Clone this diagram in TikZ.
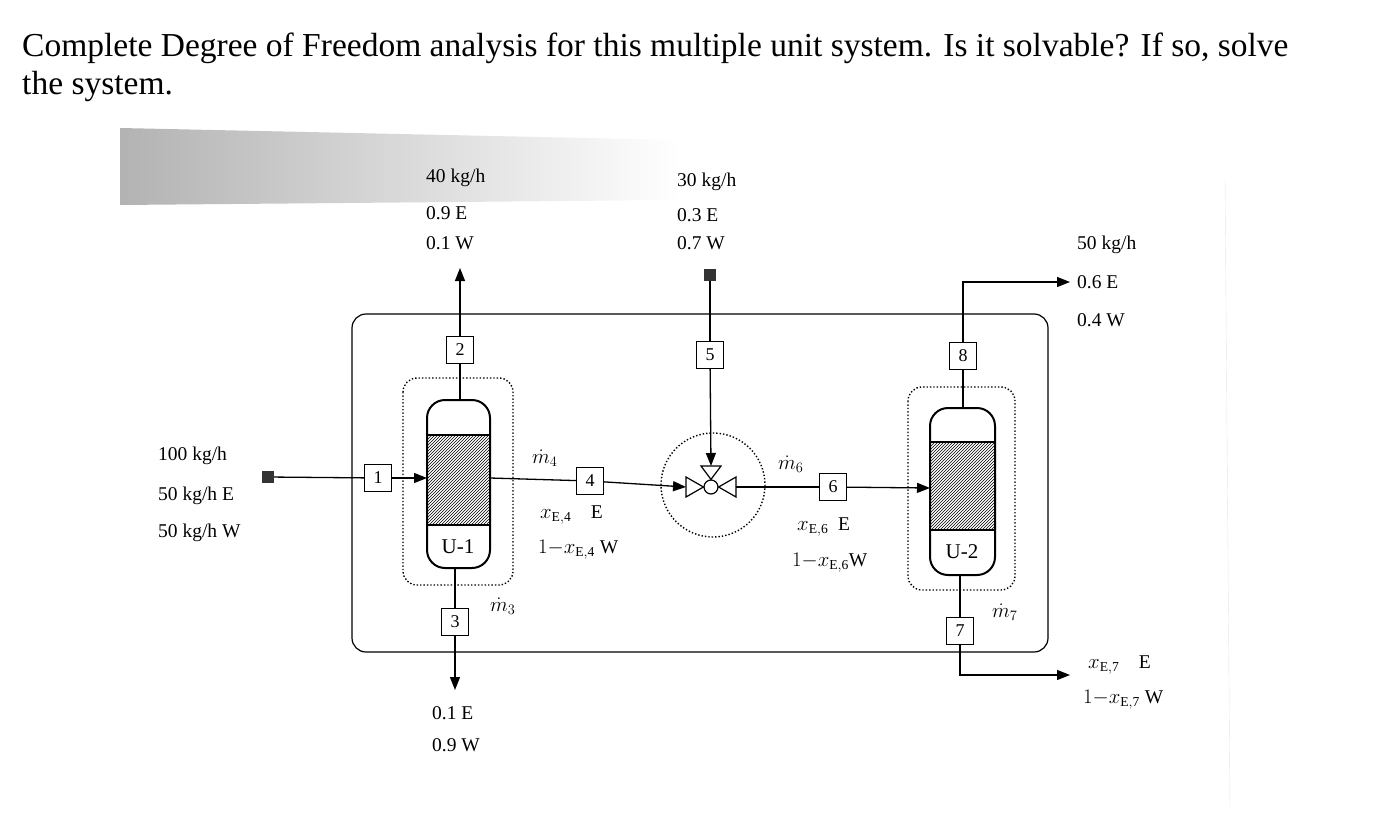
\documentclass[tikz,border=0pt]{standalone}
\usepackage{fontspec}
\setmainfont{Liberation Serif}
\usetikzlibrary{patterns,arrows.meta}
\begin{document}
\begin{tikzpicture}[x=1pt,y=-1pt,
  num/.style={draw,line width=1.2pt,minimum size=27pt,inner sep=0pt,font=\fontsize{18}{18}\selectfont,fill=white},
  lbl/.style={anchor=west,font=\fontsize{19.5}{19.5}\selectfont,inner sep=0pt},
  flow/.style={line width=1.3pt},
  arr/.style={line width=1.3pt,-{Triangle[length=13pt,width=10pt]}},
  dotbox/.style={dotted,line width=1.4pt,rounded corners=14pt},
  col/.style={draw,line width=2pt}]
\useasboundingbox (0,0) rectangle (1394,816);
% title
\node[anchor=west,font=\fontsize{33.5}{33.5}\selectfont,inner sep=0pt] (t1) at (22,48) {Complete Degree of Freedom analysis for this multiple unit system. Is it solvable? If so, solve};
\node[anchor=west,font=\fontsize{33.5}{33.5}\selectfont,inner sep=0pt] (t2) at (22,86) {the system.};
\shade[left color=black!30,right color=white] (120,128) -- (680,140) -- (680,200) -- (120,205) -- cycle;
\draw[black!10] (1225,180) -- (1230,810);
% outer boundary
\draw[line width=1.2pt,rounded corners=14pt] (352,314) rectangle (1048,652);
% U-1
\draw[dotbox] (403,378) rectangle (513,585);
\draw[col,rounded corners=18pt] (427,400) rectangle (490,568);
\fill[pattern=north east lines] (427,435) rectangle (490,525);
\draw[line width=2pt] (427,435) -- (490,435) (427,525) -- (490,525);
\node[font=\fontsize{21}{21}\selectfont] (u1) at (458,547) {U-1};
\coordinate (u1l) at (427,478); \coordinate (u1r) at (490,478);
\coordinate (u1t) at (460,400); \coordinate (u1b) at (455,568);
% U-2
\draw[dotbox] (908,387) rectangle (1015,590);
\draw[col,rounded corners=18pt] (930,408) rectangle (995,575);
\fill[pattern=north east lines] (930,442) rectangle (995,530);
\draw[line width=2pt] (930,442) -- (995,442) (930,530) -- (995,530);
\node[font=\fontsize{21}{21}\selectfont] (u2) at (962,552) {U-2};
\coordinate (u2l) at (930,488); \coordinate (u2t) at (963,408); \coordinate (u2b) at (960,575);
% mixer
\draw[dotted,line width=1.4pt] (713,485) circle (52);
\node[circle,draw,line width=1.2pt,minimum size=14pt,inner sep=0pt] (mix) at (711,487) {};
\draw[line width=1.2pt] (mix.west) -- (686,477) -- (686,497) -- cycle;
\draw[line width=1.2pt] (mix.east) -- (736,477) -- (736,497) -- cycle;
\draw[line width=1.2pt] (mix.north) -- (701,466) -- (721,466) -- cycle;
\coordinate (mixl) at (686,487); \coordinate (mixr) at (736,487); \coordinate (mixt) at (711,466);
% stream boxes
\node[num] (b1) at (378,478) {1};
\node[num] (b2) at (460,350) {2};
\node[num] (b3) at (455,622) {3};
\node[num] (b4) at (590,481) {4};
\node[num] (b5) at (710,355) {5};
\node[num] (b6) at (833,487) {6};
\node[num] (b7) at (960,631) {7};
\node[num] (b8) at (963,356) {8};
% sources
\node[fill=black!80,minimum size=12pt,inner sep=0pt] (s1) at (268,477) {};
\node[fill=black!80,minimum size=12pt,inner sep=0pt] (s5) at (710,275) {};
\coordinate (e2) at (460,268); \coordinate (e3) at (455,690);
\coordinate (c8) at (963,282); \coordinate (e8) at (1070,282);
\coordinate (c7) at (960,675); \coordinate (e7) at (1070,675);
% connectors
\draw[flow] (s1) -- (b1);
\draw[arr] (b1) -- (u1l);
\draw[flow] (u1t) -- (b2); \draw[arr] (b2) -- (e2);
\draw[flow] (u1b) -- (b3); \draw[arr] (b3) -- (e3);
\draw[flow] (u1r) -- (b4); \draw[arr] (b4) -- (mixl);
\draw[flow] (s5) -- (b5); \draw[arr] (b5) -- (mixt);
\draw[flow] (mixr) -- (b6); \draw[arr] (b6) -- (u2l);
\draw[flow] (u2t) -- (b8); \draw[arr] (b8) -- (c8) -- (e8);
\draw[flow] (u2b) -- (b7); \draw[arr] (b7) -- (c7) -- (e7);
% labels
\node[lbl] (l1a) at (158,456) {100 kg/h};
\node[lbl] (l1b) at (158,496) {50 kg/h E};
\node[lbl] (l1c) at (158,533) {50 kg/h W};
\node[lbl] (l2a) at (426,178) {40 kg/h};
\node[lbl] (l2b) at (426,213) {0.9 E};
\node[lbl] (l2c) at (426,243) {0.1 W};
\node[lbl] (l3a) at (432,713) {0.1 E};
\node[lbl] (l3b) at (432,745) {0.9 W};
\node[lbl] (l5a) at (677,182) {30 kg/h};
\node[lbl] (l5b) at (677,215) {0.3 E};
\node[lbl] (l5c) at (677,243) {0.7 W};
\node[lbl] (l8a) at (1077,245) {50 kg/h};
\node[lbl] (l8b) at (1077,282) {0.6 E};
\node[lbl] (l8c) at (1077,320) {0.4 W};
\node[lbl] (m4) at (532,458) {$\dot m_4$};
\node[lbl] (x4) at (540,515) {$x_{\mathrm{E,4}}$\quad E};
\node[lbl] (x4w) at (538,550) {$1{-}x_{\mathrm{E,4}}$ W};
\node[lbl] (m3) at (490,606) {$\dot m_3$};
\node[lbl] (m6) at (778,464) {$\dot m_6$};
\node[lbl] (x6) at (797,527) {$x_{\mathrm{E,6}}$\ \ E};
\node[lbl] (x6w) at (792,563) {$1{-}x_{\mathrm{E,6}}$W};
\node[lbl] (m7) at (992,612) {$\dot m_7$};
\node[lbl] (x7) at (1088,665) {$x_{\mathrm{E,7}}$\quad E};
\node[lbl] (x7w) at (1083,700) {$1{-}x_{\mathrm{E,7}}$ W};
\end{tikzpicture}
\end{document}
